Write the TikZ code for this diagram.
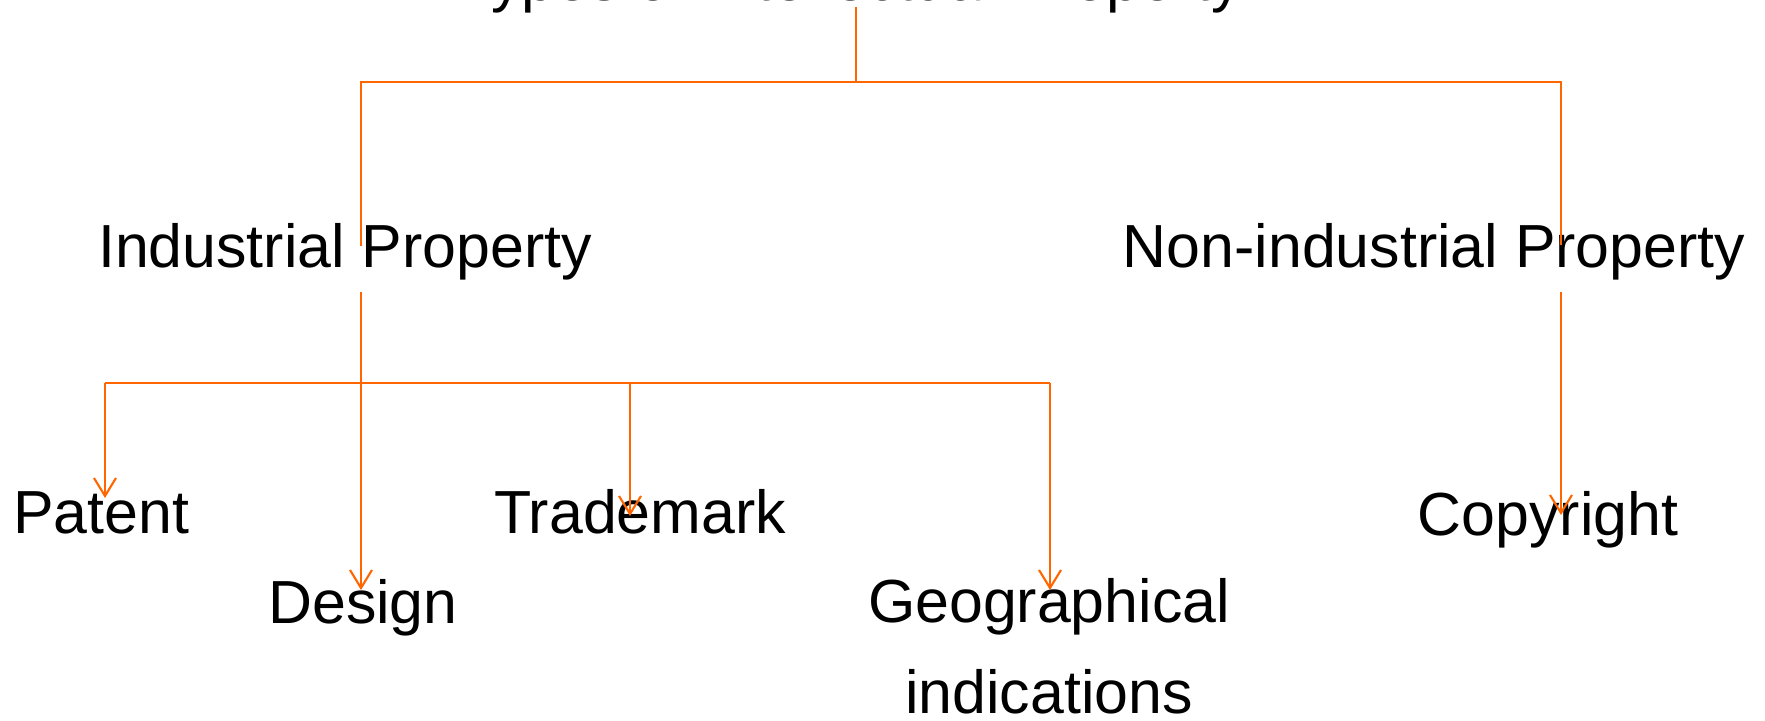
\documentclass[tikz,border=0pt]{standalone}
\usepackage{fontspec}
\setmainfont{Liberation Sans}
\usepackage{tikz}
\usetikzlibrary{arrows.meta}
\definecolor{ipline}{RGB}{255,102,0}
\tikzset{>={Straight Barb[length=1.8mm, width=2.2mm]}}
\tikzset{
    link/.style={draw=ipline, line width=0.6pt},
    item/.style={font=\fontsize{17.3pt}{25.8pt}\selectfont, inner sep=0pt, anchor=base}
}

\begin{document}
\begin{tikzpicture}[x=0.01cm, y=-0.01cm]
    \path [use as bounding box, clip] (0, 0) rectangle (1765, 721);
    \node [item] (types) at (850, 1) {Types of Intellectual Property};
    \node [item] (ind) at (345, 268) {Industrial Property};
    \node [item] (nonind) at (1434, 268) {Non-industrial Property};
    \node [item] (patent) at (101, 533) {Patent};
    \node [item] (trade) at (640, 533) {Trademark};
    \node [item] (copy) at (1548, 535) {Copyright};
    \node [item] (design) at (363, 623) {Design};
    \node [item, align=center] (geo) at (1049, 713) {Geographical\\indications};
    \foreach \name/\x/\y in {start/856/7, top/856/82, up ind/361/82, up non/1561/82,
        in ind/361/246, in non/1561/245, out ind/361/292, out non/1561/292,
        up patent/105/383, up trade/630/383, up geo/1050/383,
        tip patent/105/498, tip trade/630/516, tip design/361/590,
        tip geo/1050/590, tip copy/1561/515} {
        \coordinate (\name) at (\x, \y);
    }
    \draw [link] (start) -- (top);
    \draw [link] (in ind) -- (up ind) -- (up non) -- (in non);
    \draw [link] (up patent) -- (up geo);
    \draw [link, ->] (out ind) -- (tip design);
    \draw [link, ->] (out non) -- (tip copy);
    \foreach \item in {patent, trade, geo} {
        \draw [link, ->] (up \item) -- (tip \item);
    }
\end{tikzpicture}
\end{document}
